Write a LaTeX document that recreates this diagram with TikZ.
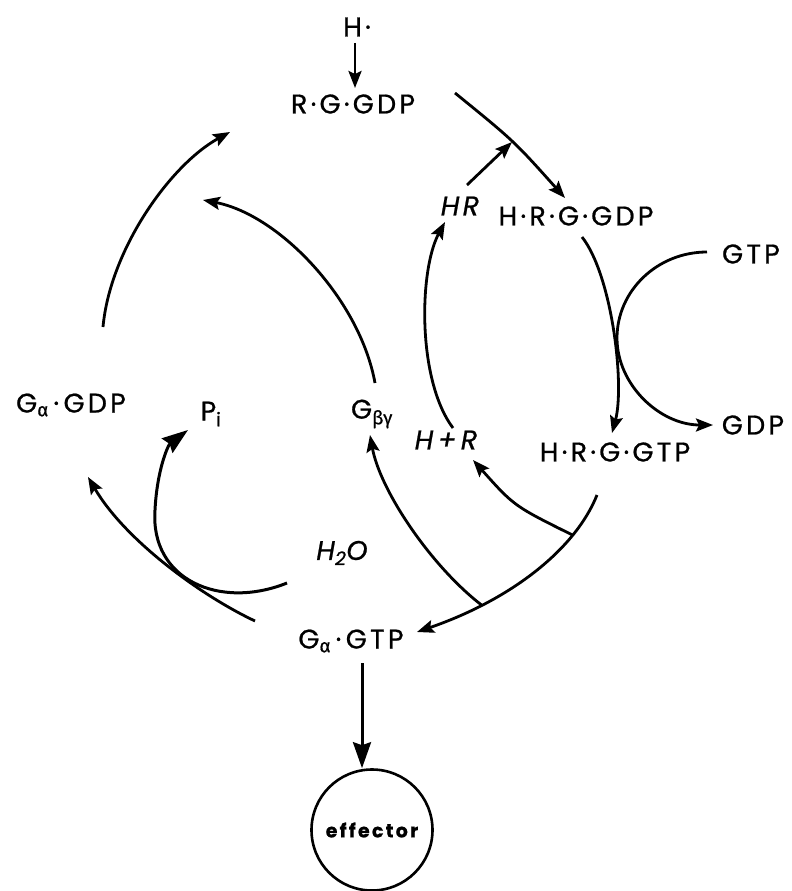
\documentclass[tikz,border=0pt]{standalone}
\usepackage{fontspec}
\setmainfont{Poppins}[LetterSpace=12, FakeBold=0.8]
\newfontfamily\grk{Fira Sans}[FakeBold=0.6]
\usetikzlibrary{arrows.meta}
\begin{document}
\begin{tikzpicture}[x=1pt,y=-1pt,
  lbl/.style={inner sep=0pt, font=\fontsize{27}{30}\selectfont},
  il/.style={inner sep=0pt, font=\fontsize{27}{30}\selectfont\itshape},
  conn/.style={line width=2.8pt, -{Stealth[length=17pt,width=13pt,inset=3pt]}},
  bigconn/.style={line width=3pt, -{Stealth[length=26pt,width=18pt,inset=3pt]}}]
\useasboundingbox (0,0) rectangle (792,891);
% labels
\node[lbl] (h) at (357,27) {H·};
\node[lbl] (rgg) at (353,104) {R·G·GDP};
\node[lbl] (hrggdp) at (576,216) {H·R·G·GDP};
\node[il] (hr) at (460,206) {HR};
\node[lbl] (gtp) at (751,254) {GTP};
\node[lbl] (gdp) at (753,425) {GDP};
\node[lbl] (hrggtp) at (615,452) {H·R·G·GTP};
\node[il] (hpr) at (446,440) {H\,+\,R};
\node[lbl] (gbg) at (372,414) {G\textsubscript{\grk βγ}};
\node[lbl] (gagdp) at (71,405) {G\textsubscript{\grk α}\,·\,GDP};
\node[lbl] (pi) at (211,414) {P\textsubscript{i}};
\node[il] (h2o) at (342,553) {H\textsubscript{2}O};
\node[lbl] (gagtp) at (351,641) {G\textsubscript{\grk α}\,·\,GTP};
\node[circle, draw, line width=2.6pt, minimum size=121pt, inner sep=0pt,
      font=\fontsize{19}{22}\selectfont\bfseries] (eff) at (372,830) {effector};
% coordinates of arc ends
\coordinate (h1) at (355,43);
\coordinate (h2) at (355,88);
\coordinate (a1) at (455,93);
\coordinate (a2) at (565,198);
\coordinate (hr1) at (467,185);
\coordinate (hr2) at (512,142);
\coordinate (b1) at (582,237);
\coordinate (b2) at (612,433);
\coordinate (gtp1) at (707,252);
\coordinate (gdp1) at (713,425);
\coordinate (hp1) at (453,428);
\coordinate (hp2) at (445,222);
\coordinate (gb1) at (375,383);
\coordinate (gb2) at (203,200);
\coordinate (l1) at (103,327);
\coordinate (l2) at (230,132);
\coordinate (ga1) at (255,621);
\coordinate (ga2) at (88,477);
\coordinate (w1) at (287,583);
\coordinate (w2) at (188,430);
\coordinate (c1) at (597,495);
\coordinate (c2) at (417,632);
\coordinate (br1e) at (473,460);
\coordinate (br2e) at (370,435);
\coordinate (e1) at (362,663);
% connectors
\draw[conn] (h1) -- (h2);
\draw[conn] (a1) .. controls (514,141) .. (a2);
\draw[conn] (hr1) -- (hr2);
\draw[conn] (b1) .. controls (612,275) and (625,385) .. (b2);
\draw[conn] (gtp1) .. controls (657,252) and (617,291) .. (617,338)
   .. controls (617,385) and (660,425) .. (gdp1);
\draw[conn] (hp1) .. controls (417,380) and (419,270) .. (hp2);
\draw[conn] (gb1) .. controls (360,300) and (280,215) .. (gb2);
\draw[conn] (l1) .. controls (110,250) and (170,165) .. (l2);
\draw[conn] (ga1) .. controls (200,595) and (125,540) .. (ga2);
\draw[bigconn] (w1) .. controls (220,610) and (150,580) .. (155,510)
   .. controls (157,470) and (168,445) .. (w2);
\draw[conn] (c1) .. controls (575,550) and (510,600) .. coordinate[pos=0.25] (br1) coordinate[pos=0.75] (br2) (c2);
\draw[conn] (br1) .. controls (514,506) .. (br1e);
\draw[conn] (br2) .. controls (430,565) and (380,490) .. (br2e);
\draw[bigconn] (e1) -- (e1 |- eff.north);
\end{tikzpicture}
\end{document}
